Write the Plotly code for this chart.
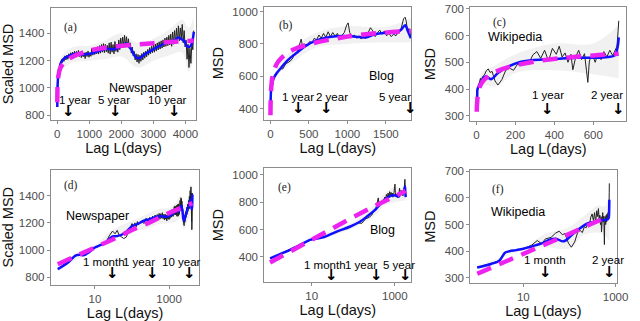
import math
import plotly.graph_objects as go

# ---------------- Newspaper ----------------
news_lag = [1, 2, 3, 5, 7, 10, 15, 20, 25, 30, 35, 40, 45, 50, 60, 70, 80, 90, 100, 110, 120, 130, 140,
            150, 180, 210, 240, 270, 300, 330, 360, 390, 420,
            450, 480, 510, 540, 570, 600, 630, 660, 690, 720,
            750, 780, 810, 840, 870, 900, 930, 960, 990, 1020,
            1050, 1080, 1110, 1140, 1170, 1200, 1230, 1260, 1290, 1320,
            1350, 1380, 1410, 1440, 1470, 1500, 1530, 1560, 1590, 1620,
            1650, 1680, 1710, 1740, 1770, 1800, 1830, 1860, 1890, 1920,
            1950, 1980, 2010, 2040, 2070, 2100, 2130, 2160, 2190, 2220,
            2250, 2280, 2310, 2340, 2370, 2400, 2430, 2460, 2490, 2520,
            2550, 2580, 2610, 2640, 2670, 2700, 2730, 2760, 2790, 2820,
            2850, 2880, 2910, 2940, 2970, 3000, 3030, 3060, 3090, 3120,
            3150, 3180, 3210, 3240, 3270, 3300, 3330, 3360, 3390, 3420,
            3450, 3480, 3510, 3540, 3570, 3600, 3630, 3660, 3690, 3720,
            3750, 3780, 3810, 3840, 3870, 3900, 3930, 3960, 3990, 4020,
            4050, 4080, 4110, 4140, 4170, 4200, 4230, 4260]
news_msd = [860, 920, 960, 965, 990, 1020, 1040, 1060, 1110, 1140, 1120, 1145, 1110, 1100, 1085,
            1095, 1130, 1160, 1195, 1175, 1200, 1170, 1210,
            1190, 1215, 1195, 1235, 1205, 1240, 1210, 1250, 1220, 1258,
            1225, 1262, 1230, 1270, 1228, 1268, 1235, 1275, 1230, 1262,
            1222, 1265, 1228, 1258, 1215, 1262, 1230, 1270, 1225, 1255,
            1232, 1290, 1240, 1282, 1245, 1298, 1250, 1302, 1248, 1310,
            1255, 1318, 1262, 1325, 1258, 1320, 1265, 1312, 1255, 1330,
            1248, 1335, 1262, 1318, 1250, 1340, 1268, 1322, 1262, 1352,
            1280, 1365, 1295, 1372, 1310, 1385, 1305, 1375, 1300, 1360,
            1290, 1330, 1255, 1300, 1235, 1268, 1205, 1250, 1190, 1245,
            1180, 1240, 1195, 1252, 1205, 1262, 1218, 1270, 1228, 1282,
            1240, 1295, 1250, 1305, 1258, 1315, 1262, 1322, 1270, 1330,
            1278, 1338, 1285, 1345, 1292, 1352, 1300, 1365, 1305, 1372,
            1310, 1385, 1315, 1395, 1305, 1410, 1320, 1420, 1325, 1438,
            1330, 1455, 1345, 1440, 1360, 1465, 1330, 1420, 1300, 1350,
            1210, 1320, 1150, 1290, 1180, 1330, 1280, 1420]
news_smooth_lag = [1, 2, 3, 4, 5, 7, 10, 15, 20, 30, 40, 60, 80, 100, 150, 210, 300, 470, 600,
                   800, 1000, 1200, 1500, 1800, 2040, 2140, 2300, 2450, 2550, 2750, 3010, 3210,
                   3420, 3670, 3780, 3880, 3980, 4030, 4110, 4180, 4230, 4260]
news_smooth = [860, 915, 960, 965, 962, 985, 1019, 1040, 1060, 1100, 1103, 1120, 1150, 1176, 1195,
               1216, 1228, 1245, 1250, 1245, 1250, 1262, 1285, 1285, 1309, 1326, 1285, 1225, 1218,
               1250, 1285, 1309, 1333, 1350, 1369, 1357, 1340, 1309, 1300, 1316, 1357, 1410]
news_fit_lag = [1, 3, 10, 30, 100, 300, 1000, 3000, 4260]
news_fit = [896, 952, 1022, 1078, 1148, 1203, 1273, 1328, 1346]
news_band_lag = [1, 10, 30, 100, 200, 500, 1000, 1500, 2000, 2500, 3000, 3500, 3900, 4100, 4260]
news_band_lo = [855, 1005, 1090, 1140, 1150, 1190, 1200, 1210, 1230, 1150, 1200, 1240, 1260, 1120, 1220]
news_band_hi = [865, 1035, 1150, 1215, 1250, 1300, 1310, 1350, 1400, 1330, 1360, 1430, 1500, 1440, 1520]
news_marks = [365, 1825, 3650]
news_mark_labels = ["1 year", "5 year", "10 year"]
news_log_marks = [30, 365, 3650]
news_log_mark_labels = ["1 month", "1 year", "10 year"]

# ---------------- Blog ----------------
blog_lag = [1, 3, 10, 20, 30, 40, 50, 60, 80, 100, 130, 160, 200, 240, 280, 320, 350, 380, 400,
            420, 450, 480, 510, 540, 570, 600, 630, 660, 690, 720, 750, 780, 810, 840, 870, 900,
            930, 960, 990, 1010, 1030, 1060, 1090, 1120, 1150, 1180, 1210, 1240, 1270, 1300, 1330,
            1360, 1390, 1420, 1450, 1480, 1510, 1540, 1570, 1600, 1630, 1660, 1690, 1710, 1730,
            1750, 1765, 1780, 1800, 1815, 1825]
blog_msd = [390, 455, 526, 545, 568, 588, 598, 610, 622, 632, 648, 645, 678, 688, 705, 740, 755,
            800, 830, 775, 795, 790, 815, 805, 835, 825, 855, 835, 865, 840, 875, 845, 870, 850,
            865, 835, 850, 870, 915, 930, 870, 845, 855, 835, 850, 830, 845, 835, 870, 900, 880,
            845, 870, 885, 860, 880, 850, 865, 845, 860, 850, 870, 880, 910, 955, 965, 940, 880,
            895, 860, 840]
blog_smooth_lag = [1, 3.2, 9.5, 11, 20, 40, 83, 144, 226, 300, 360, 420, 518, 645, 771, 940, 1108,
                   1235, 1361, 1530, 1635, 1700, 1750, 1785, 1825]
blog_smooth = [390, 455, 526, 530, 545, 585, 620, 656, 700, 730, 752, 775, 805, 829, 843, 849,
               845, 840, 860, 869, 869, 889, 915, 880, 835]
blog_fit_lag = [1, 3, 10, 30, 100, 300, 1000, 1825]
blog_fit = [360, 440, 525, 605, 690, 765, 845, 880]
blog_band_lag = [1, 10, 30, 100, 300, 600, 1000, 1500, 1825]
blog_band_lo = [387, 520, 555, 610, 690, 780, 800, 810, 810]
blog_band_hi = [393, 532, 590, 655, 775, 870, 910, 905, 960]
blog_marks = [365, 730, 1825]
blog_mark_labels = ["1 year", "2 year", "5 year"]
blog_log_marks = [30, 365, 1825]
blog_log_mark_labels = ["1 month", "1 year", "5 year"]

# ---------------- Wikipedia ----------------
wiki_lag = [1, 3, 4, 6, 10, 15, 20, 25, 30, 40, 50, 60, 70, 80, 95, 110, 130, 150, 170, 190, 210,
            230, 250, 270, 290, 310, 330, 350, 370, 390, 410, 425, 440, 455, 470, 485, 495, 510,
            525, 540, 555, 565, 572, 580, 595, 610, 625, 640, 655, 670, 685, 700, 712, 722, 728, 731]
wiki_msd = [339, 364, 394, 402, 409, 422, 440, 428, 446, 452, 468, 475, 462, 466, 430, 415, 435,
            470, 478, 470, 492, 488, 505, 498, 528, 540, 515, 545, 505, 552, 530, 560, 520, 535,
            500, 530, 472, 520, 545, 510, 532, 470, 425, 505, 530, 500, 535, 510, 540, 520, 545,
            525, 548, 560, 620, 655]
wiki_smooth_lag = [1, 2, 3, 3.5, 4, 5, 7, 10, 14, 20, 27, 37, 50, 75, 110, 160, 224, 274, 341,
                   425, 509, 593, 677, 711, 725, 731]
wiki_smooth = [339, 352, 364, 380, 394, 400, 404, 409, 416, 424, 431, 443, 447, 437, 460, 483,
               501, 507, 510, 513, 517, 517, 520, 526, 556, 593]
wiki_fit_lag = [1, 3, 10, 30, 100, 300, 731]
wiki_fit = [315, 350, 390, 427, 465, 503, 532]
wiki_band_lag = [1, 10, 30, 100, 200, 400, 600, 731]
wiki_band_lo = [335, 404, 415, 410, 460, 470, 455, 440]
wiki_band_hi = [343, 415, 465, 490, 530, 570, 570, 640]
wiki_marks = [365, 730]
wiki_mark_labels = ["1 year", "2 year"]
wiki_log_marks = [30, 730]
wiki_log_mark_labels = ["1 month", "2 year"]

datasets = {
    "news": dict(lag=news_lag, msd=news_msd, slag=news_smooth_lag, smooth=news_smooth,
                 flag=news_fit_lag, fit=news_fit, blag=news_band_lag, blo=news_band_lo,
                 bhi=news_band_hi),
    "blog": dict(lag=blog_lag, msd=blog_msd, slag=blog_smooth_lag, smooth=blog_smooth,
                 flag=blog_fit_lag, fit=blog_fit, blag=blog_band_lag, blo=blog_band_lo,
                 bhi=blog_band_hi),
    "wiki": dict(lag=wiki_lag, msd=wiki_msd, slag=wiki_smooth_lag, smooth=wiki_smooth,
                 flag=wiki_fit_lag, fit=wiki_fit, blag=wiki_band_lag, blo=wiki_band_lo,
                 bhi=wiki_band_hi),
}

W, H = 640, 321


def dom_x(a, b):
    return [a / W, b / W]


def dom_y(top, bottom):
    return [1 - bottom / H, 1 - top / H]


panels = [
    dict(k="a", ds="news", log=False, xd=dom_x(51.7, 200), yd=dom_y(3.3, 117.3),
         xr=[-204, 4337], yr=[767, 1584], xt=[0, 1000, 2000, 3000, 4000], yt=[800, 1000, 1200, 1400],
         yttl="Scaled MSD", name="Newspaper", name_xy=(2602, 998), letter_xy=(0.078, 0.906),
         marks=news_marks, labels=news_mark_labels, label_x=[561, 1765, 3439], label_y=915, arrow_y=829),
    dict(k="b", ds="blog", log=False, xd=dom_x(269.3, 419.3), yd=dom_y(1.7, 117.3),
         xr=[-80, 1832], yr=[332, 1030], xt=[0, 500, 1000, 1500], yt=[400, 600, 800, 1000],
         yttl="MSD", name="Blog", name_xy=(1437, 601), letter_xy=(0.089, 0.913),
         marks=blog_marks, labels=blog_mark_labels, label_x=[358, 805, 1614], label_y=470, arrow_y=404),
    dict(k="c", ds="wiki", log=False, xd=dom_x(479.3, 638.3), yd=dom_y(1.7, 119),
         xr=[-32, 770], yr=[279, 708], xt=[0, 200, 400, 600], yt=[300, 400, 500, 600, 700],
         yttl="MSD", name="Wikipedia", name_xy=(198, 596), letter_xy=(0.13, 0.938),
         marks=wiki_marks, labels=wiki_mark_labels, label_x=[366, 669], label_y=376, arrow_y=324),
    dict(k="d", ds="news", log=True, xd=dom_x(51.7, 203.3), yd=dom_y(168.3, 286),
         xr=[-0.19, 3.82], yr=[745, 1592], xt=[10, 1000], yt=[800, 1000, 1200, 1400],
         yttl="Scaled MSD", name="Newspaper", name_xy=(10 ** 1.07, 1251), letter_xy=(0.077, 0.935),
         marks=news_log_marks, labels=news_log_mark_labels,
         label_x=[10 ** 1.247, 10 ** 2.19, 10 ** 3.335], label_y=913, arrow_y=831),
    dict(k="e", ds="blog", log=True, xd=dom_x(269.3, 419.3), yd=dom_y(166.7, 283.3),
         xr=[-0.14, 3.40], yr=[217, 1047], xt=[10, 1000], yt=[400, 600, 800, 1000],
         yttl="MSD", name="Blog", name_xy=(10 ** 2.71, 597), letter_xy=(0.083, 0.90),
         marks=blog_log_marks, labels=blog_log_mark_labels,
         label_x=[10 ** 1.33, 10 ** 2.197, 10 ** 3.10], label_y=341, arrow_y=272),
    dict(k="f", ds="wiki", log=True, xd=dom_x(479.3, 628.3), yd=dom_y(169, 284.3),
         xr=[-0.15, 3.02], yr=[280, 704], xt=[10, 1000], yt=[300, 400, 500, 600, 700],
         yttl="MSD", name="Wikipedia", name_xy=(10 ** 0.894, 547), letter_xy=(0.134, 0.905),
         marks=wiki_log_marks, labels=wiki_log_mark_labels,
         label_x=[10 ** 1.48, 10 ** 2.84], label_y=367, arrow_y=321),
]

FONT = "Liberation Sans, Arial, sans-serif"
fig = go.Figure()
annotations = []
layout = dict(width=W, height=H, margin=dict(l=0, r=0, t=0, b=0),
              paper_bgcolor="white", plot_bgcolor="white", showlegend=False,
              font=dict(family=FONT))

for i, p in enumerate(panels, start=1):
    xa = "x" if i == 1 else f"x{i}"
    ya = "y" if i == 1 else f"y{i}"
    d = datasets[p["ds"]]
    fig.add_trace(go.Scatter(x=d["blag"], y=d["blo"], mode="lines", line=dict(width=0, shape="spline"),
                             hoverinfo="skip", xaxis=xa, yaxis=ya))
    fig.add_trace(go.Scatter(x=d["blag"], y=d["bhi"], mode="lines", line=dict(width=0, shape="spline"),
                             fill="tonexty", fillcolor="rgba(170,170,170,0.16)",
                             hoverinfo="skip", xaxis=xa, yaxis=ya))
    fig.add_trace(go.Scatter(x=d["lag"], y=d["msd"], mode="lines",
                             line=dict(color="#222222", width=1), xaxis=xa, yaxis=ya))
    fig.add_trace(go.Scatter(x=d["slag"], y=d["smooth"], mode="lines",
                             line=dict(color="#1010ff", width=2.5, shape="spline"), xaxis=xa, yaxis=ya))
    fig.add_trace(go.Scatter(x=d["flag"], y=d["fit"], mode="lines",
                             line=dict(color="#ee22ee", width=4.5, dash="15px,9px",
                                       shape="linear" if p["log"] else "spline"),
                             xaxis=xa, yaxis=ya))

    axkey_x = "xaxis" if i == 1 else f"xaxis{i}"
    axkey_y = "yaxis" if i == 1 else f"yaxis{i}"
    common = dict(showline=True, mirror=True, linecolor="#8c8c8c", linewidth=1,
                  ticks="outside", ticklen=3, tickcolor="#8c8c8c", showgrid=False, zeroline=False,
                  tickfont=dict(size=11.5, color="#4d4d4d", family=FONT))
    layout[axkey_x] = dict(common, domain=p["xd"], anchor=ya, range=p["xr"],
                           type="log" if p["log"] else "linear", tickvals=p["xt"],
                           ticktext=[str(v) for v in p["xt"]],
                           title=dict(text="Lag L(days)", font=dict(size=14.5, color="#111111"),
                                      standoff=0))
    layout[axkey_y] = dict(common, domain=p["yd"], anchor=xa, range=p["yr"], tickvals=p["yt"],
                           title=dict(text=p["yttl"], font=dict(size=14.5, color="#111111"),
                                      standoff=5))

    def xv(v):
        return math.log10(v) if p["log"] else v

    annotations.append(dict(xref=f"{xa} domain", yref=f"{ya} domain", x=p["letter_xy"][0],
                            y=p["letter_xy"][1], text=f"({p['k']})", showarrow=False,
                            font=dict(family="Liberation Serif, DejaVu Serif, serif", size=11.5,
                                      color="#222222")))
    annotations.append(dict(xref=xa, yref=ya, x=xv(p["name_xy"][0]), y=p["name_xy"][1],
                            text=p["name"], showarrow=False,
                            font=dict(family=FONT, size=12.5, color="black")))
    for m, lab, lx in zip(p["marks"], p["labels"], p["label_x"]):
        annotations.append(dict(xref=xa, yref=ya, x=xv(lx), y=p["label_y"], text=lab,
                                showarrow=False, font=dict(family=FONT, size=11.5, color="black")))
        annotations.append(dict(xref=xa, yref=ya, x=xv(m), y=p["arrow_y"], text="<b>↓</b>",
                                showarrow=False,
                                font=dict(family="DejaVu Sans", size=15, color="black")))

layout["annotations"] = annotations
fig.update_layout(**layout)
fig.write_html("out.html", config={"displayModeBar": False},
               post_script="document.body.style.margin='0px';document.body.style.overflow='hidden';")
